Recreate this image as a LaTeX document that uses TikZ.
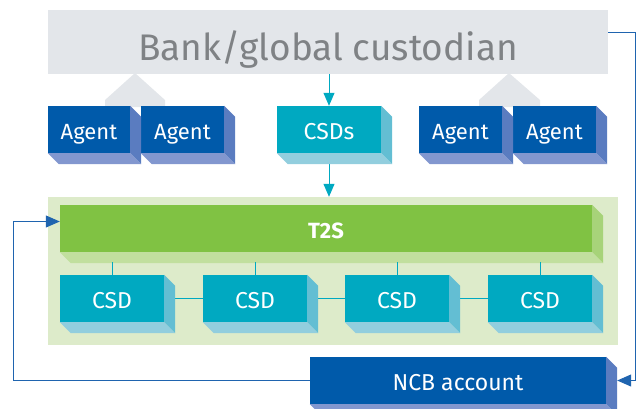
\documentclass[tikz,border=0pt]{standalone}
\usepackage{fontspec}
\setmainfont{Fira Sans}
\usetikzlibrary{arrows.meta,positioning}

\definecolor{bankgray}{HTML}{E3E6EA}
\definecolor{banktext}{HTML}{7F8285}
\definecolor{agentblue}{HTML}{005AAA}
\definecolor{agentside}{HTML}{5A7CC0}
\definecolor{agentbottom}{HTML}{8297CF}
\definecolor{csdteal}{HTML}{00A9C1}
\definecolor{csdside}{HTML}{63BED3}
\definecolor{csdbottom}{HTML}{92CEDE}
\definecolor{tgreen}{HTML}{80C243}
\definecolor{tside}{HTML}{A7D379}
\definecolor{tbottom}{HTML}{C1DF9E}
\definecolor{platform}{HTML}{DDEBCA}
\definecolor{linkblue}{HTML}{1F64AF}

% side and bottom faces of a box
\newcommand{\boxdepth}[3]{%
  \fill[#2] (#1.north east) -- ++(11,11) -- ([shift={(11,11)}]#1.south east) -- (#1.south east) -- cycle;
  \fill[#3] (#1.south west) -- ++(11,11) -- ([shift={(11,11)}]#1.south east) -- (#1.south east) -- cycle;
}

\begin{document}
\begin{tikzpicture}[x=1pt,y=-1pt,
    face/.style={inner sep=0pt,text=white,minimum height=47pt,text height=19pt,text depth=0pt,
                 font=\fontsize{22}{22}\selectfont},
    agentbox/.style={face,fill=agentblue,minimum width=83pt},
    csdbox/.style={face,fill=csdteal,minimum width=104pt,font=\fontsize{23}{23}\selectfont},
    tealarrow/.style={draw=csdteal,line width=1pt,-{Triangle[length=13pt,width=11pt]}},
    bluearrow/.style={draw=linkblue,line width=1pt,-{Triangle[length=14pt,width=12pt]}},
    link/.style={draw=csdteal,line width=1pt}]
  \useasboundingbox (0,0) rectangle (638,408);
  \clip (0,0) rectangle (638,408);

  % custodian on top
  \node[fill=bankgray,minimum width=560pt,minimum height=64pt,inner sep=0pt,
        text=banktext,font=\fontsize{37}{37}\selectfont,text height=36pt,text depth=0pt]
        (bank) at (328,42) {Bank/global custodian};
  \fill[bankgray] (135,73) -- (105,100) -- (105,107) -- (165,107) -- (165,100) -- cycle;
  \fill[bankgray] (509,73) -- (479,100) -- (479,107) -- (540,107) -- (540,100) -- cycle;

  % platform
  \node[fill=platform,minimum width=570pt,minimum height=148pt,inner sep=0pt] (cont) at (333,271) {};

  % agents and CSDs
  \node[agentbox,minimum width=82pt] (ag1) at (89,129.5) {Agent};
  \node[agentbox] (ag2) at (182.5,129.5) {Agent};
  \node[agentbox] (ag3) at (460.5,129.5) {Agent};
  \node[agentbox] (ag4) at (554.5,129.5) {Agent};
  \node[csdbox] (csds) at (329,129.5) {CSDs};

  \draw[tealarrow] (bank.south -| csds) -- (csds.north);
  \draw[tealarrow] (csds.south) -- (csds.south |- cont.north);

  \foreach \n in {ag1,ag2,ag3,ag4}
    {\boxdepth{\n}{agentside}{agentbottom}}
  \boxdepth{csds}{csdside}{csdbottom}

  % T2S and the CSDs under it
  \node[face,fill=tgreen,minimum width=532pt,font=\fontsize{22}{22}\selectfont\bfseries]
        (t2s) at (326,228.5) {T2S};
  \boxdepth{t2s}{tside}{tbottom}

  \foreach \i/\x in {1/112,2/255,3/397,4/540}
    \node[csdbox] (csd\i) at (\x,298.5) {CSD};
  \foreach \i in {1,...,4}
    \draw[link] (csd\i.north) -- ++(0,-13);
  \draw[link] (csd1) -- (csd2);
  \draw[link] (csd2) -- (csd3);
  \draw[link] (csd3) -- (csd4);
  \foreach \i in {1,...,4}
    {\boxdepth{csd\i}{csdside}{csdbottom}}

  % NCB account
  \node[face,fill=agentblue,minimum width=296pt,font=\fontsize{23}{23}\selectfont]
        (ncb) at (458,380.5) {NCB account};
  \boxdepth{ncb}{agentside}{agentbottom}

  \draw[bluearrow] ([yshift=10pt]bank.east) -- ++(27,0) |- ([xshift=11pt]ncb.east);
  \draw[bluearrow] (ncb.west) -- ++(-296,0) |- ([yshift=7pt]t2s.west);
\end{tikzpicture}
\end{document}
